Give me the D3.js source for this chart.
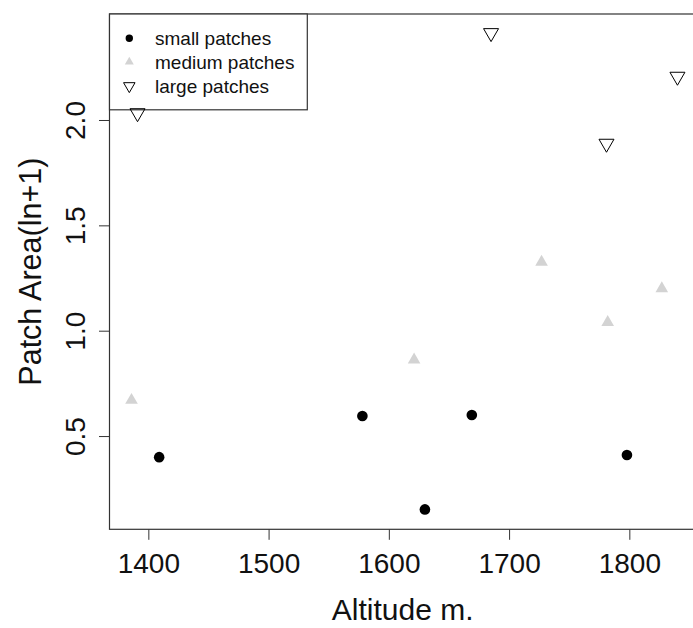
<!DOCTYPE html>
<html>
<head>
<meta charset="utf-8">
<script src="https://cdn.jsdelivr.net/npm/d3@7"></script>
<style>
  html, body { margin: 0; padding: 0; background: #fff; }
  svg { display: block; font-family: "Liberation Sans", Arial, sans-serif; }
</style>
</head>
<body>
<svg id="chart" width="693" height="628"></svg>
<script>
// ---- data ----
const smallAlt  = [1409, 1578, 1630, 1669, 1798];
const smallArea = [0.40, 0.595, 0.152, 0.60, 0.41];
const mediumAlt  = [1386, 1621, 1727, 1782, 1827];
const mediumArea = [0.67, 0.862, 1.326, 1.04, 1.20];
const largeAlt  = [1391, 1685, 1781, 1840];
const largeArea = [2.033, 2.413, 1.888, 2.206];
const xTicks = [1400, 1500, 1600, 1700, 1800];
const yTicks = [0.5, 1.0, 1.5, 2.0];
const legendLabels = ["small patches", "medium patches", "large patches"];
const xTitle = "Altitude m.";
const yTitle = "Patch Area(ln+1)";

// ---- layout ----
const svg = d3.select("#chart");
const xLim = [1367.7, 1858.7];
const yLim = [0.0575, 2.503];
const plot = { left: 109.5, top: 14, bottom: 529.3 };
plot.right = plot.left + (xLim[1] - xLim[0]) * 1.2025;

const x = d3.scaleLinear().domain(xLim).range([plot.left, plot.right]);
const y = d3.scaleLinear().domain(yLim).range([plot.bottom, plot.top]);

const axisColor = "#333";
const textColor = "#111";

// x axis
const gx = svg.append("g")
  .attr("transform", `translate(0,${plot.bottom})`)
  .call(d3.axisBottom(x).tickValues(xTicks).tickFormat(d3.format("d"))
        .tickSizeInner(10.5).tickSizeOuter(0).tickPadding(14));
gx.select(".domain").remove();
gx.selectAll(".tick line").attr("stroke", axisColor).attr("stroke-width", 1);
gx.selectAll(".tick text").attr("fill", textColor)
  .attr("font-size", 28).attr("font-family", "Liberation Sans, Arial, sans-serif")
  .attr("dy", null).attr("y", 44.2);

// y axis
const gy = svg.append("g")
  .attr("transform", `translate(${plot.left},0)`)
  .call(d3.axisLeft(y).tickValues(yTicks).tickFormat(d3.format(".1f"))
        .tickSizeInner(10.5).tickSizeOuter(0));
gy.select(".domain").remove();
gy.selectAll(".tick line").attr("stroke", axisColor).attr("stroke-width", 1);
gy.selectAll(".tick text").attr("fill", textColor)
  .attr("font-size", 28).attr("font-family", "Liberation Sans, Arial, sans-serif")
  .attr("x", null).attr("dy", null)
  .attr("text-anchor", "middle")
  .attr("transform", "translate(-25,0) rotate(-90)");

// plot box
svg.append("rect")
  .attr("x", plot.left).attr("y", plot.top)
  .attr("width", plot.right - plot.left).attr("height", plot.bottom - plot.top)
  .attr("fill", "none").attr("stroke", axisColor).attr("stroke-width", 1.2);

// titles
svg.append("text")
  .attr("x", (plot.left + plot.right) / 2 - 2).attr("y", 620)
  .attr("text-anchor", "middle").attr("font-size", 30).attr("fill", textColor)
  .text(xTitle);
svg.append("text")
  .attr("transform", `translate(41,${(plot.top + plot.bottom) / 2}) rotate(-90)`)
  .attr("text-anchor", "middle").attr("font-size", 30.5).attr("fill", textColor)
  .text(yTitle);

// legend
const leg = svg.append("g");
leg.append("rect")
  .attr("x", plot.left).attr("y", plot.top)
  .attr("width", 307.3 - plot.left).attr("height", 109.8 - plot.top)
  .attr("fill", "#fff").attr("stroke", axisColor).attr("stroke-width", 1.2);

// points
const triMed = d3.symbol().type(d3.symbolTriangle).size(12.6 * 12.6 * Math.sqrt(3) / 4);
const triLarge = d3.symbol().type(d3.symbolTriangle).size(15 * 15 * Math.sqrt(3) / 4);
const circ = d3.symbol().type(d3.symbolCircle).size(Math.PI * 5.3 * 5.3);

svg.append("g").selectAll("path").data(d3.range(mediumAlt.length)).join("path")
  .attr("d", triMed)
  .attr("transform", i => `translate(${x(mediumAlt[i])},${y(mediumArea[i])})`)
  .attr("fill", "#d3d3d3");

svg.append("g").selectAll("path").data(d3.range(smallAlt.length)).join("path")
  .attr("d", circ)
  .attr("transform", i => `translate(${x(smallAlt[i])},${y(smallArea[i])})`)
  .attr("fill", "#000");

svg.append("g").selectAll("path").data(d3.range(largeAlt.length)).join("path")
  .attr("d", triLarge)
  .attr("transform", i => `translate(${x(largeAlt[i])},${y(largeArea[i])}) rotate(180)`)
  .attr("fill", "none").attr("stroke", "#000").attr("stroke-width", 1);

// legend entries
const legRows = [38.3, 62, 86];
const legSymX = 129.3;
legendLabels.forEach((lab, i) => {
  let p;
  if (i === 0) {
    p = leg.append("path").attr("d", d3.symbol().type(d3.symbolCircle).size(Math.PI * 3.7 * 3.7)())
      .attr("fill", "#000");
  } else if (i === 1) {
    p = leg.append("path").attr("d", d3.symbol().type(d3.symbolTriangle).size(9 * 9 * Math.sqrt(3) / 4)())
      .attr("fill", "#d3d3d3");
  } else {
    p = leg.append("path").attr("d", d3.symbol().type(d3.symbolTriangle).size(11.5 * 11.5 * Math.sqrt(3) / 4)())
      .attr("fill", "none").attr("stroke", "#000").attr("stroke-width", 1);
  }
  p.attr("transform", `translate(${legSymX},${legRows[i]})` + (i === 2 ? " rotate(180)" : ""));
  leg.append("text")
    .attr("x", 155).attr("y", legRows[i]).attr("dy", "0.35em")
    .attr("font-size", 19).attr("fill", textColor)
    .text(lab);
});
</script>
</body>
</html>
